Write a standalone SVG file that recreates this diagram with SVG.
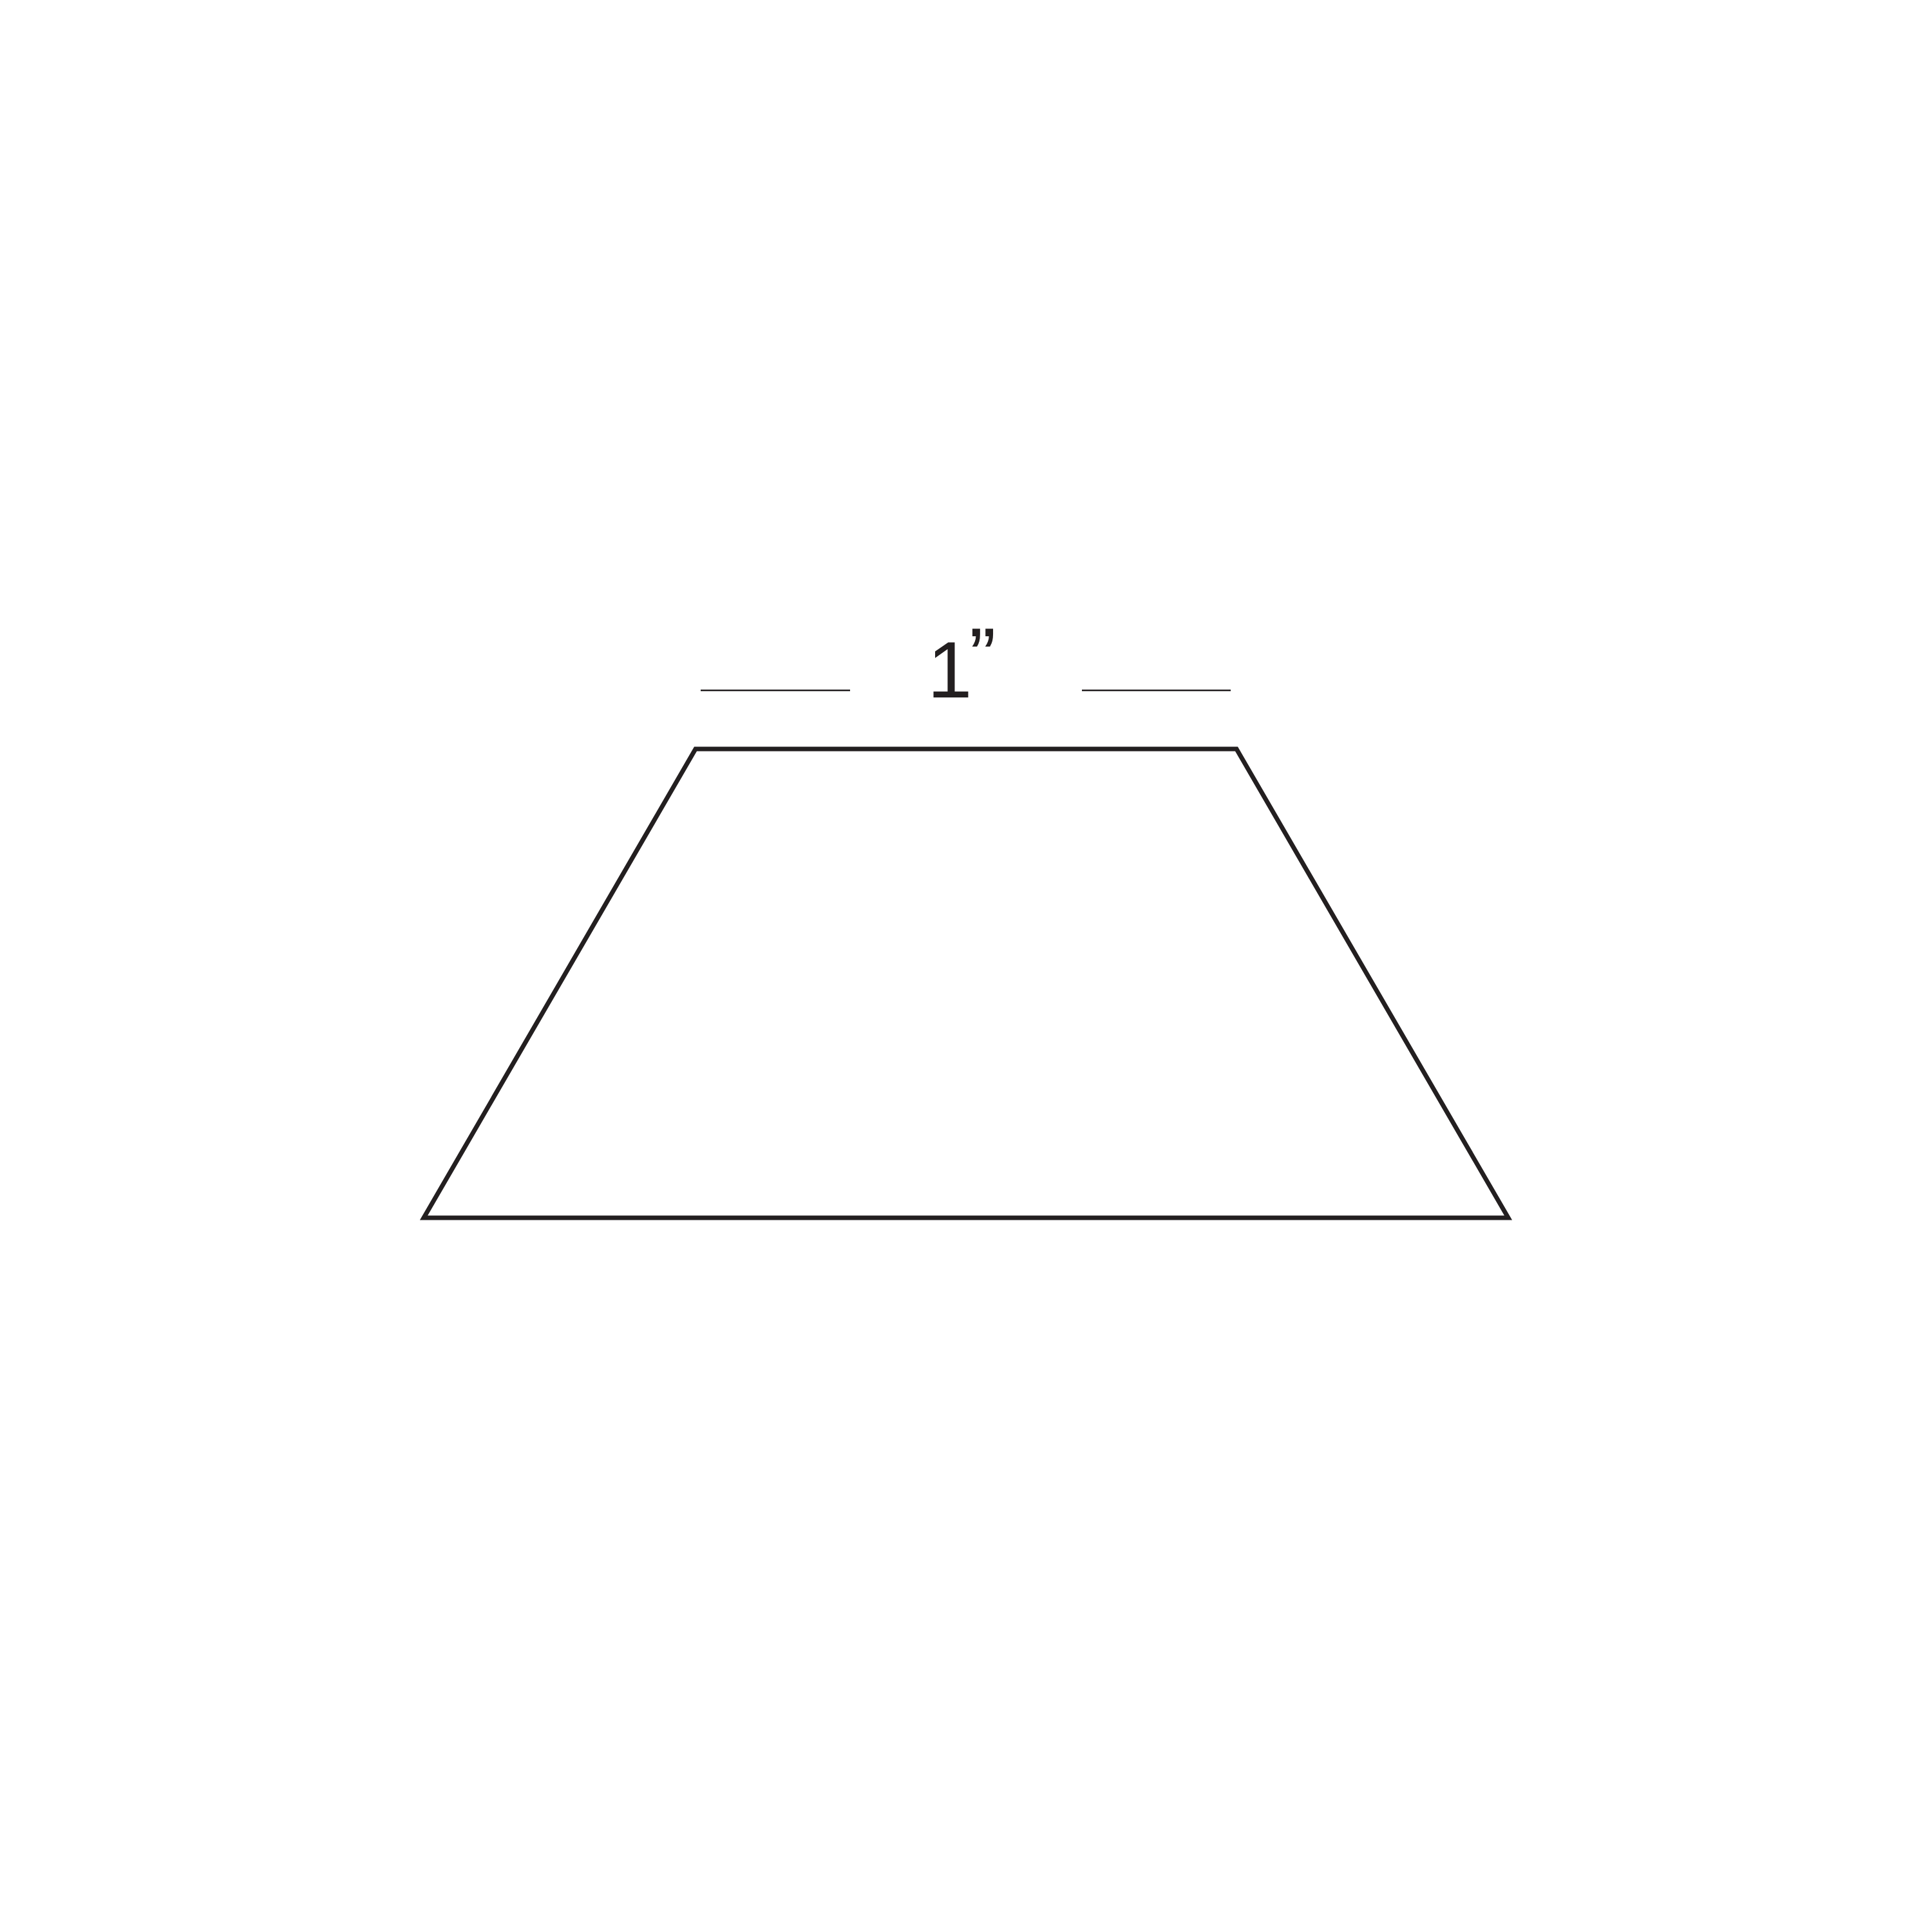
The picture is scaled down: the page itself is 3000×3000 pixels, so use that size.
<svg xmlns="http://www.w3.org/2000/svg" width="3000" height="3000" viewBox="0 0 3000 3000">
<style>
.shape{fill:none;stroke:#231f20;stroke-width:7;stroke-linejoin:miter;stroke-miterlimit:10}
.dim{stroke:#231f20;stroke-width:2.5}
.lbl{font-family:"Liberation Sans Narrow","Liberation Sans",Arial,sans-serif;font-size:125px;fill:#231f20}
</style>
<rect width="3000" height="3000" fill="#ffffff"/>
<g id="trapezoid">
<polygon class="shape" points="1080,1163 1920,1163 2342,1891 658,1891"/>
</g>
<g id="dimension">
<line class="dim" x1="1088" y1="1072" x2="1320" y2="1072"/>
<line class="dim" x1="1680" y1="1072" x2="1911" y2="1072"/>
<text class="lbl" x="1440" y="1083">1</text>
<text class="lbl" x="1505" y="1062">”</text>
</g>
</svg>
